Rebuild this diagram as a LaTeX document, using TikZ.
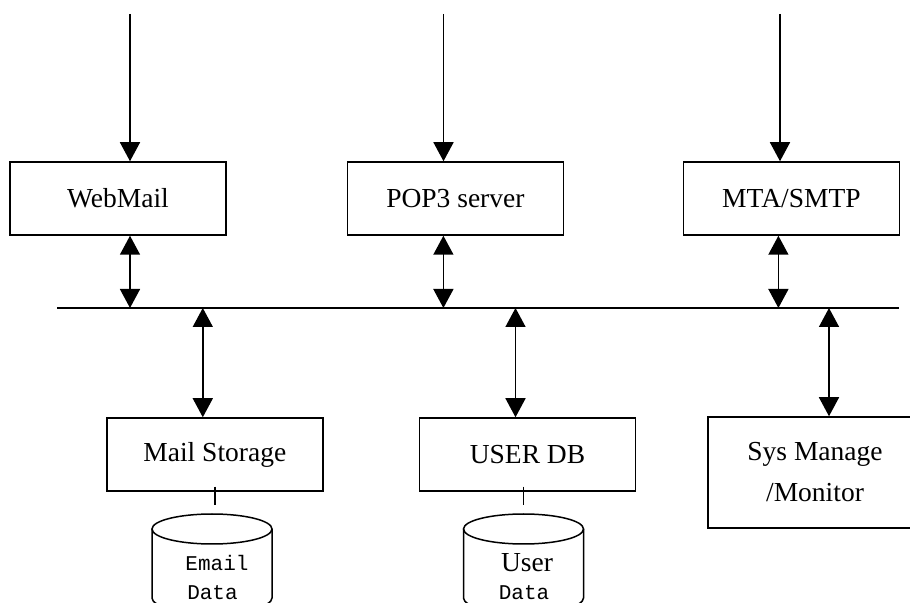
\documentclass[tikz,border=0pt]{standalone}
\usepackage{fontspec}
\setmainfont{Liberation Serif}
\setmonofont{Liberation Mono}
\usetikzlibrary{arrows.meta}

\newcommand{\boxfont}{\fontsize{13.75pt}{20.5pt}\selectfont}
\newcommand{\datafont}{\ttfamily\fontsize{10.5pt}{15pt}\selectfont}

\tikzset{
	box/.style={draw, line width=0.75pt, minimum width=108pt, minimum height=36.5pt, font=\boxfont, align=center},
	link/.style={line width=0.75pt, -{Triangle[length=9.5pt,width=10pt]}},
	twoway/.style={line width=0.75pt, {Triangle[length=9.5pt,width=10pt]}-{Triangle[length=9.5pt,width=10pt]}},
	plain/.style={line width=0.75pt}
}

\begin{document}
\begin{tikzpicture}[x=0.5pt, y=-0.5pt]
	\useasboundingbox (0,0) rectangle (910,603);
	\clip (0,0) rectangle (910,603);

	\node[box] (web) at (118, 198.5) {WebMail};
	\node[box] (pop) at (455.4, 198.5) {POP3 server};
	\node[box] (mta) at (791.4, 198.5) {MTA/SMTP};
	\node[box] (mail) at (214.8, 454.5) {Mail Storage};
	\node[box] (user) at (527.5, 454.5) {USER DB};
	\node[box, minimum height=55.5pt, minimum width=107pt] (sys) at (815, 472.5) {Sys Manage\\/Monitor};

	\coordinate (busL) at (57, 308);
	\coordinate (busR) at (899, 308);
	\draw [plain] (busL) -- (busR);

	\coordinate (inWeb) at (130, 14);
	\coordinate (inPop) at (443.5, 14);
	\coordinate (inMta) at (780, 14);
	\draw [link] (inWeb) -- (inWeb |- web.north);
	\draw [link] (inPop) -- (inPop |- pop.north);
	\draw [link] (inMta) -- (inMta |- mta.north);

	\draw [twoway] ([xshift=6pt]web.south) -- ([xshift=6pt]web.south |- busL);
	\draw [twoway] ([xshift=-6pt]pop.south) -- ([xshift=-6pt]pop.south |- busL);
	\draw [twoway] ([xshift=-6.5pt]mta.south) -- ([xshift=-6.5pt]mta.south |- busL);
	\draw [twoway] ([xshift=-6pt]mail.north |- busL) -- ([xshift=-6pt]mail.north);
	\draw [twoway] ([xshift=-6pt]user.north |- busL) -- ([xshift=-6pt]user.north);
	\draw [twoway] ([xshift=7pt]sys.north |- busL) -- ([xshift=7pt]sys.north);

	% storage drums
	\coordinate (mailDrum) at (212, 529);
	\coordinate (userDrum) at (523.5, 529);
	\draw [plain] ([yshift=2.5pt]mail.south) -- ++(0, 18.5);
	\draw [plain] ([xshift=-2pt, yshift=2.5pt]user.south) -- ++(0, 18.5);
	\draw [plain] (mailDrum) ellipse [x radius=30pt, y radius=7.5pt];
	\draw [plain] ([xshift=-30pt]mailDrum) -- ++(0, 69) arc [start angle=180, end angle=360, x radius=30pt, y radius=7.5pt] -- ++(0, -69);
	\draw [plain] (userDrum) ellipse [x radius=30pt, y radius=7.5pt];
	\draw [plain] ([xshift=-30pt]userDrum) -- ++(0, 69) arc [start angle=180, end angle=360, x radius=30pt, y radius=7.5pt] -- ++(0, -69);

	\node [font=\datafont] (emailTxt) at (217, 563) {Email};
	\node [font=\datafont] (mailData) at (212.5, 593) {Data};
	\node [font=\boxfont] (userTxt) at (527, 563) {User};
	\node [font=\datafont] (userData) at (524, 593) {Data};
\end{tikzpicture}
\end{document}
